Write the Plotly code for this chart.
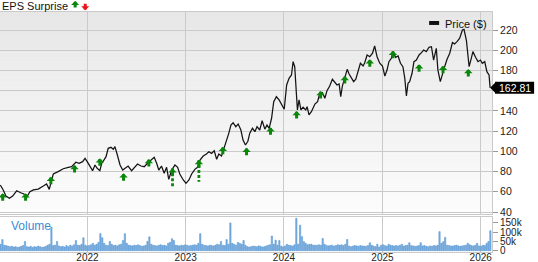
import plotly.graph_objects as go
import pandas as pd

# ---------------- data ----------------
price_dates = [
    "2021-02-11", "2021-02-22", "2021-03-04", "2021-03-17", "2021-03-29", "2021-04-13", "2021-04-28",
    "2021-05-10", "2021-05-20", "2021-06-01", "2021-06-14", "2021-07-02", "2021-07-21", "2021-08-02",
    "2021-08-12", "2021-08-21", "2021-08-27", "2021-09-14", "2021-10-03", "2021-10-22", "2021-11-03",
    "2021-11-19", "2021-12-01", "2021-12-14", "2021-12-23", "2021-12-31", "2022-01-10", "2022-01-20",
    "2022-01-29", "2022-02-06", "2022-02-16", "2022-02-23", "2022-03-03", "2022-03-11", "2022-03-19",
    "2022-03-29", "2022-04-07", "2022-04-13", "2022-04-22", "2022-05-02", "2022-05-12", "2022-05-20",
    "2022-06-01", "2022-06-14", "2022-06-26", "2022-07-06", "2022-07-19", "2022-07-31", "2022-08-12",
    "2022-08-25", "2022-09-06", "2022-09-15", "2022-09-23", "2022-10-03", "2022-10-13", "2022-10-22",
    "2022-10-30", "2022-11-10", "2022-11-22", "2022-12-02", "2022-12-10", "2022-12-23", "2023-01-02",
    "2023-01-13", "2023-01-23", "2023-02-04", "2023-02-14", "2023-02-23", "2023-03-07", "2023-03-19",
    "2023-03-28", "2023-04-07", "2023-04-17", "2023-04-26", "2023-05-04", "2023-05-14", "2023-05-24",
    "2023-06-02", "2023-06-10", "2023-06-18", "2023-06-26", "2023-07-06", "2023-07-15", "2023-07-25",
    "2023-08-02", "2023-08-11", "2023-08-20", "2023-08-27", "2023-09-06", "2023-09-15", "2023-09-23",
    "2023-10-03", "2023-10-12", "2023-10-22", "2023-10-30", "2023-11-07", "2023-11-16", "2023-11-24",
    "2023-12-04", "2023-12-14", "2023-12-23", "2024-01-02", "2024-01-11", "2024-01-20", "2024-01-29",
    "2024-02-04", "2024-02-10", "2024-02-17", "2024-02-20", "2024-02-26", "2024-03-04", "2024-03-12",
    "2024-03-22", "2024-03-27", "2024-04-03", "2024-04-12", "2024-04-25", "2024-05-05", "2024-05-13",
    "2024-05-23", "2024-06-01", "2024-06-09", "2024-06-19", "2024-06-29", "2024-07-08", "2024-07-16",
    "2024-07-24", "2024-07-30", "2024-08-05", "2024-08-14", "2024-08-23", "2024-08-30", "2024-09-08",
    "2024-09-16", "2024-09-24", "2024-10-02", "2024-10-11", "2024-10-21", "2024-10-27", "2024-11-05",
    "2024-11-15", "2024-11-25", "2024-12-03", "2024-12-12", "2024-12-22", "2025-01-01", "2025-01-10",
    "2025-01-18", "2025-01-25", "2025-02-03", "2025-02-09", "2025-02-19", "2025-02-28", "2025-03-09",
    "2025-03-18", "2025-03-25", "2025-03-31", "2025-04-06", "2025-04-12", "2025-04-21", "2025-04-28",
    "2025-05-07", "2025-05-17", "2025-05-26", "2025-06-03", "2025-06-13", "2025-06-23", "2025-07-02",
    "2025-07-10", "2025-07-20", "2025-07-26", "2025-08-04", "2025-08-12", "2025-08-20", "2025-08-29",
    "2025-09-08", "2025-09-18", "2025-09-26", "2025-10-05", "2025-10-15", "2025-10-25", "2025-10-31",
    "2025-11-09", "2025-11-15", "2025-11-19", "2025-11-27", "2025-12-03", "2025-12-13", "2025-12-22",
    "2025-12-31", "2026-01-07", "2026-01-16", "2026-01-24", "2026-02-01", "2026-02-05",
]
price_values = [
    66.7, 61.8, 55.8, 53.5, 55.8, 61.0, 59.0,
    57.8, 54.5, 60.0, 61.8, 62.7, 65.7, 67.7,
    62.4, 73.3, 77.6, 79.9, 82.8, 84.2, 84.8,
    89.2, 88.2, 89.8, 93.1, 89.8, 84.8, 80.9,
    86.5, 83.2, 80.9, 88.2, 91.4, 94.7, 103.0,
    104.0, 102.0, 104.6, 96.4, 86.5, 81.5, 83.2,
    85.5, 80.9, 84.2, 87.5, 85.5, 84.8, 88.2,
    91.4, 94.1, 88.2, 81.5, 85.5, 78.3, 84.2,
    72.3, 81.5, 86.5, 84.2, 77.6, 71.7, 68.4,
    71.7, 77.6, 82.2, 84.2, 91.4, 95.4, 97.4,
    99.6, 98.0, 100.6, 92.1, 97.4, 95.4, 103.0,
    109.5, 117.8, 126.0, 128.3, 124.4, 127.0, 121.1,
    111.2, 106.3, 110.0, 118.0, 122.8, 119.4, 124.4,
    121.1, 130.3, 122.0, 126.0, 122.8, 132.7, 149.1,
    154.0, 150.8, 146.8, 141.6, 165.6, 172.2, 175.5,
    188.7, 183.7, 142.5, 141.0, 150.8, 140.9, 143.6,
    140.9, 144.2, 136.0, 139.2, 146.8, 149.1, 157.4,
    158.0, 152.5, 160.0, 164.6, 171.3, 167.9, 165.6,
    166.6, 154.0, 164.6, 173.8, 181.1, 176.5, 172.2,
    168.9, 171.3, 178.8, 187.1, 184.4, 187.7, 195.3,
    193.6, 197.0, 204.2, 193.6, 187.1, 184.4, 174.5,
    180.4, 188.7, 192.0, 198.6, 193.0, 194.3, 187.1,
    183.7, 172.2, 154.7, 167.3, 168.9, 177.2, 188.7,
    190.3, 195.3, 197.6, 200.2, 198.6, 202.9, 203.5,
    190.3, 201.9, 180.4, 168.9, 177.2, 183.7, 191.0,
    197.0, 207.6, 206.3, 208.5, 211.9, 220.0, 220.7,
    209.4, 195.3, 183.7, 192.0, 198.6, 193.0, 188.7,
    190.3, 187.1, 188.7, 178.8, 175.5, 162.81,
]
last_price = 162.81

# EPS surprise arrows (all positive surprises), value = arrow tip price
eps_dates = [
    "2021-02-20", "2021-05-16", "2021-08-18", "2021-11-14", "2022-02-16", "2022-05-15", "2022-08-17",
    "2022-11-13", "2023-02-19", "2023-05-19", "2023-08-15", "2023-11-12", "2024-02-17", "2024-05-16",
    "2024-08-14", "2024-11-15", "2025-02-09", "2025-05-17", "2025-08-14", "2025-11-16",
]
eps_values = [
    58.5, 58.5, 74.9, 86.5, 93.1, 78.3, 92.4,
    83.2, 91.4, 104.6, 103.6, 123.8, 139.9, 159.7,
    174.5, 191.0, 199.5, 186.1, 184.7, 181.4,
]
# arrows with a dashed extended stem
eps_dash_dates = ["2022-11-13", "2023-02-19"]
eps_dash_top = [83.2, 91.4]
eps_dash_low = [64.4, 70.0]

# weekly volume (thousands of shares)
volume_start = "2021-02-12"
volume_k = [
    35, 60, 30, 28, 25, 22, 24, 20, 22, 18, 20, 24, 28, 50, 22, 20, 24, 18, 22, 20,
    25, 22, 18, 20, 24, 30, 35, 127, 28, 30, 50, 26, 22, 24, 20, 28, 22, 30, 26, 32,
    55, 30, 28, 35, 70, 30, 26, 28, 32, 40, 30, 35, 45, 92, 70, 40, 30, 28, 50, 35,
    28, 30, 26, 32, 35, 55, 92, 40, 30, 28, 26, 30, 28, 32, 28, 24, 26, 30, 50, 75,
    35, 30, 28, 26, 30, 32, 28, 30, 26, 40, 45, 65, 55, 30, 28, 26, 30, 28, 32, 30,
    26, 28, 30, 32, 30, 40, 92, 35, 30, 28, 26, 30, 28, 26, 30, 35, 32, 50, 30, 28,
    60, 35, 150, 40, 35, 30, 45, 40, 35, 55, 30, 22, 20, 22, 25, 24, 22, 26, 24, 20,
    22, 26, 30, 32, 79, 35, 57, 30, 55, 25, 20, 26, 35, 30, 28, 25, 32, 175, 35, 138,
    76, 49, 40, 32, 35, 35, 30, 30, 30, 32, 30, 66, 35, 28, 26, 28, 30, 25, 28, 32,
    30, 32, 28, 35, 61, 25, 22, 25, 28, 26, 24, 28, 26, 25, 24, 28, 43, 30, 25, 22,
    35, 20, 30, 32, 28, 25, 35, 30, 28, 26, 28, 26, 30, 35, 25, 28, 30, 43, 28, 26,
    24, 25, 28, 43, 26, 28, 24, 22, 26, 24, 28, 26, 30, 103, 40, 49, 72, 30, 28, 26,
    25, 28, 30, 26, 24, 26, 28, 30, 40, 32, 28, 26, 30, 40, 26, 24, 30, 28, 40, 50, 108,
]

price_ticks = [40, 60, 80, 100, 120, 140, 160, 180, 200, 220]
price_tick_labels = ["40", "60", "80", "100", "120", "140", "", "180", "200", "220"]
volume_ticks = [0, 50, 100, 150]
volume_labels = ["0", "50k", "100k", "150k"]
year_ticks = ["2022-01-01", "2023-01-01", "2024-01-01", "2025-01-01", "2026-01-01"]
year_labels = ["2022", "2023", "2024", "2025", "2026"]
x_range = ["2021-02-10", "2026-02-12"]
price_range = [38.02, 237.8]
price_domain = [0.1583, 1.0]

# ---------------- style ----------------
FONT = 'Arial, "Liberation Sans", Helvetica, sans-serif'
GRID = "#cacaca"
GREEN = "#0a870a"
RED = "#e8141a"
VOL_BLUE = "#3c8cd4"
TICK_FONT = dict(size=10.5, color="#222", family=FONT)

fig = go.Figure()

vol_dates = pd.date_range(volume_start, periods=len(volume_k), freq="7D")
fig.add_trace(go.Bar(
    x=vol_dates, y=volume_k, xaxis="x", yaxis="y",
    marker=dict(color="#7fb3e4", line=dict(color="#4a8ccc", width=0.5)),
    hoverinfo="skip", showlegend=False,
))

fig.add_trace(go.Scatter(
    x=price_dates, y=price_values, xaxis="x2", yaxis="y2", mode="lines",
    line=dict(color="#141414", width=1.25), hoverinfo="skip", showlegend=False,
))

for d, top, low in zip(eps_dash_dates, eps_dash_top, eps_dash_low):
    fig.add_trace(go.Scatter(
        x=[d, d], y=[top, low], xaxis="x2", yaxis="y2", mode="lines",
        line=dict(color=GREEN, width=2.8, dash="3px,2px"), hoverinfo="skip", showlegend=False,
    ))

annotations = []
for d, v in zip(eps_dates, eps_values):
    annotations.append(dict(
        x=d, y=v, xref="x2", yref="y2", text="", showarrow=True,
        ax=0, ay=9, arrowhead=1, arrowwidth=3, arrowsize=0.47, arrowcolor=GREEN,
    ))

# header: EPS Surprise with arrows
annotations.append(dict(x=0, y=1.027, xref="paper", yref="paper", text="EPS Surprise",
                        showarrow=False, xanchor="left", yanchor="middle",
                        font=dict(size=11, color="#111", family=FONT)))
annotations.append(dict(x=0.1528, y=1.046, xref="paper", yref="paper", text="", showarrow=True,
                        ax=0, ay=8, arrowhead=1, arrowwidth=3, arrowsize=0.45, arrowcolor=GREEN))
annotations.append(dict(x=0.1732, y=1.007, xref="paper", yref="paper", text="", showarrow=True,
                        ax=0, ay=-8, arrowhead=1, arrowwidth=3, arrowsize=0.45, arrowcolor=RED))

# legend text
annotations.append(dict(x=0.9005, y=0.952, xref="paper", yref="paper", text="Price ($)",
                        showarrow=False, xanchor="left", yanchor="middle",
                        font=dict(size=11, color="#111", family=FONT)))
# Volume label
annotations.append(dict(x=0.019, y=0.108, xref="paper", yref="paper", text="Volume",
                        showarrow=False, xanchor="left", yanchor="middle",
                        font=dict(size=12, color=VOL_BLUE, family=FONT)))

# position of the last price in paper units (for the unclipped price tag)
x0_ts = pd.Timestamp(x_range[0])
x1_ts = pd.Timestamp(x_range[1])
last_ts = pd.Timestamp(price_dates[-1])
last_xp = (last_ts - x0_ts) / (x1_ts - x0_ts)
last_yp = price_domain[0] + (last_price - price_range[0]) / (price_range[1] - price_range[0]) * (
    price_domain[1] - price_domain[0])

annotations.append(dict(x=last_xp, y=last_yp, xref="paper", yref="paper",
                        text=f"{last_price:.2f}", showarrow=False, xanchor="center",
                        yanchor="middle", xshift=25, yshift=0,
                        font=dict(size=10.5, color="white", family=FONT)))

shapes = []
# gradient background of price panel
n_bands = 40
for i in range(n_bands):
    lvl = int(round(252 - 21 * (i + 0.5) / n_bands))
    shapes.append(dict(
        type="rect", xref="x2 domain", yref="y2 domain",
        x0=0, x1=1, y0=i / n_bands, y1=min(1, (i + 1.05) / n_bands),
        fillcolor=f"rgb({lvl},{lvl},{lvl})", line=dict(width=0), layer="below",
    ))
# legend swatch
shapes.append(dict(type="rect", xref="paper", yref="paper", x0=0.8722, x1=0.8925,
                   y0=0.946, y1=0.9625, fillcolor="#111", line=dict(width=0)))
# last price box + pointer
shapes.append(dict(type="rect", xref="paper", yref="paper", xsizemode="pixel", ysizemode="pixel",
                   xanchor=last_xp, yanchor=last_yp, x0=5, x1=44, y0=-6, y1=6,
                   fillcolor="black", line=dict(width=0), layer="above"))
shapes.append(dict(type="path", xref="paper", yref="paper", xsizemode="pixel", ysizemode="pixel",
                   xanchor=last_xp, yanchor=last_yp, path="M0,0 L6,6 L6,-6 Z",
                   fillcolor="black", line=dict(width=0), layer="above"))

fig.update_layout(
    width=538, height=262,
    margin=dict(l=0, r=46, t=12, b=10, autoexpand=False),
    paper_bgcolor="white", plot_bgcolor="rgba(0,0,0,0)",
    showlegend=False, bargap=0.3,
    font=dict(family=FONT, size=11, color="#222"),
    xaxis=dict(domain=[0, 1], range=x_range, anchor="y", type="date", automargin=False,
               tickvals=year_ticks, ticktext=year_labels, ticks="", ticklabelstandoff=-4,
               showgrid=True, gridcolor=GRID, gridwidth=1,
               showline=True, linecolor=GRID, mirror=True, zeroline=False,
               tickfont=dict(size=10, color="#222", family=FONT)),
    yaxis=dict(domain=[0, 0.1458], range=[-7, 182], anchor="x", side="right", automargin=False,
               tickvals=volume_ticks, ticktext=volume_labels,
               ticks="outside", ticklen=5, tickcolor="#9a9a9a",
               showgrid=False, showline=True, linecolor=GRID, mirror=True,
               zeroline=False, tickfont=dict(size=10, color="#222", family=FONT)),
    xaxis2=dict(domain=[0, 1], range=x_range, anchor="y2", type="date", matches="x",
                automargin=False,
                tickvals=year_ticks, showticklabels=False, ticks="",
                showgrid=True, gridcolor=GRID, gridwidth=1,
                showline=True, linecolor=GRID, mirror=True, zeroline=False),
    yaxis2=dict(domain=price_domain, range=price_range, anchor="x2", side="right",
                automargin=False,
                tickvals=price_ticks, ticktext=price_tick_labels,
                ticks="outside", ticklen=5, tickcolor="#9a9a9a",
                showgrid=True, gridcolor=GRID, gridwidth=1,
                showline=True, linecolor=GRID, mirror=True, zeroline=False,
                tickfont=TICK_FONT),
    annotations=annotations,
    shapes=shapes,
)

fig.write_html("out.html")
